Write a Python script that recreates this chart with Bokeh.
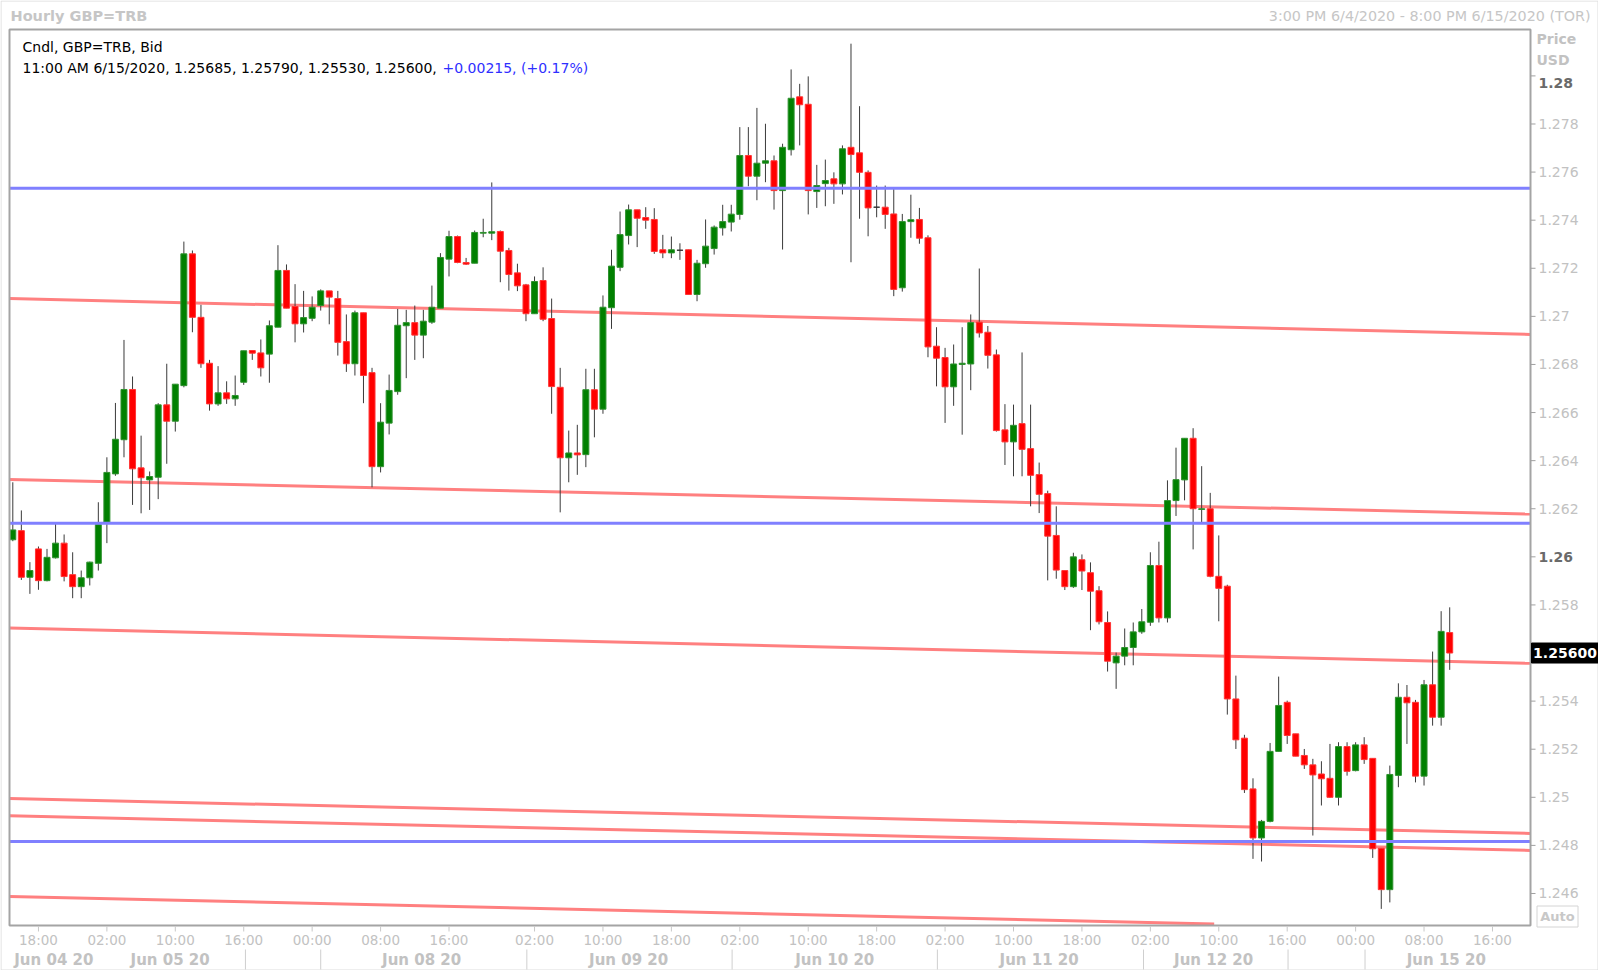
from bokeh.plotting import figure
from bokeh.models import Range1d, ColumnDataSource
from bokeh.core.properties import value
from bokeh.embed import file_html
from bokeh.resources import INLINE

# ---------------- data (hourly GBP=TRB candles, index 0 = 3:00 PM 6/4/2020) ----------------
opens = [1.26071, 1.26109, 1.25915, 1.26033, 1.25901, 1.25996, 1.26057, 1.25926, 1.25876, 1.25913,
         1.25973, 1.26144, 1.26345, 1.26487, 1.26696, 1.26370, 1.26320, 1.26331, 1.26632, 1.26564,
         1.26712, 1.27260, 1.26996, 1.26805, 1.26636, 1.26682, 1.26657, 1.26726, 1.26858, 1.26848,
         1.26843, 1.26955, 1.27191, 1.27041, 1.26969, 1.26992, 1.27045, 1.27106, 1.27074, 1.26895,
         1.26803, 1.27015, 1.26766, 1.26375, 1.26556, 1.26687, 1.26961, 1.26974, 1.26922, 1.26976,
         1.27034, 1.27238, 1.27332, 1.27224, 1.27221, 1.27346, 1.27346, 1.27353, 1.27274, 1.27181,
         1.27131, 1.27011, 1.27149, 1.26991, 1.26705, 1.26412, 1.26432, 1.26425, 1.26695, 1.26614,
         1.27036, 1.27204, 1.27336, 1.27443, 1.27411, 1.27403, 1.27277, 1.27264, 1.27275, 1.27277,
         1.27091, 1.27219, 1.27282, 1.27368, 1.27392, 1.27424, 1.27669, 1.27583, 1.27637, 1.27647,
         1.27523, 1.27693, 1.27913, 1.27882, 1.27519, 1.27552, 1.27572, 1.27551, 1.27703, 1.27680,
         1.27599, 1.27454, 1.27454, 1.27426, 1.27119, 1.27394, 1.27403, 1.27327, 1.26876, 1.26829,
         1.26707, 1.26800, 1.26802, 1.26976, 1.26934, 1.26840, 1.26528, 1.26478, 1.26554, 1.26450,
         1.26342, 1.26263, 1.26089, 1.25943, 1.25876, 1.25988, 1.25934, 1.25859, 1.25727, 1.25559,
         1.25587, 1.25623, 1.25688, 1.25728, 1.25964, 1.25746, 1.26234, 1.26320, 1.26493, 1.26197,
         1.26200, 1.25919, 1.25878, 1.25409, 1.25246, 1.25035, 1.24831, 1.24900, 1.25191, 1.25395,
         1.25264, 1.25174, 1.25135, 1.25097, 1.25079, 1.25000, 1.25211, 1.25111, 1.25218, 1.25162,
         1.24788, 1.24616, 1.25091, 1.25416, 1.25395, 1.25088, 1.25468, 1.25333, 1.25685]
highs = [1.26310, 1.26193, 1.25978, 1.26043, 1.26033, 1.26137, 1.26093, 1.26019, 1.25943, 1.25980,
         1.26227, 1.26414, 1.26640, 1.26902, 1.26750, 1.26504, 1.26355, 1.26639, 1.26803, 1.26718,
         1.27311, 1.27274, 1.27048, 1.26819, 1.26793, 1.26730, 1.26754, 1.26857, 1.26860, 1.26904,
         1.26983, 1.27296, 1.27216, 1.27134, 1.27106, 1.27083, 1.27112, 1.27106, 1.27106, 1.27008,
         1.27024, 1.27015, 1.26786, 1.26639, 1.26758, 1.27031, 1.27027, 1.27045, 1.27027, 1.27128,
         1.27263, 1.27356, 1.27336, 1.27243, 1.27357, 1.27406, 1.27557, 1.27357, 1.27285, 1.27219,
         1.27135, 1.27166, 1.27204, 1.27074, 1.26786, 1.26525, 1.26549, 1.26782, 1.26782, 1.27087,
         1.27277, 1.27436, 1.27465, 1.27443, 1.27454, 1.27450, 1.27339, 1.27332, 1.27304, 1.27277,
         1.27235, 1.27403, 1.27378, 1.27464, 1.27464, 1.27787, 1.27787, 1.27867, 1.27801, 1.27669,
         1.27718, 1.28027, 1.27967, 1.27998, 1.27630, 1.27652, 1.27599, 1.27711, 1.28134, 1.27874,
         1.27607, 1.27544, 1.27544, 1.27530, 1.27426, 1.27506, 1.27451, 1.27337, 1.26955, 1.26869,
         1.26883, 1.26955, 1.27008, 1.27199, 1.26960, 1.26862, 1.26635, 1.26633, 1.26850, 1.26633,
         1.26392, 1.26275, 1.26210, 1.25943, 1.26017, 1.26010, 1.25977, 1.25878, 1.25773, 1.25602,
         1.25702, 1.25727, 1.25783, 1.26019, 1.26063, 1.26318, 1.26454, 1.26493, 1.26535, 1.26377,
         1.26266, 1.26089, 1.25884, 1.25506, 1.25260, 1.25079, 1.24906, 1.25226, 1.25502, 1.25402,
         1.25264, 1.25201, 1.25160, 1.25150, 1.25222, 1.25229, 1.25229, 1.25229, 1.25250, 1.25162,
         1.24788, 1.25132, 1.25474, 1.25467, 1.25405, 1.25488, 1.25606, 1.25774, 1.25790]
lows = [1.26065, 1.25904, 1.25846, 1.25863, 1.25898, 1.25993, 1.25898, 1.25828, 1.25828, 1.25881,
        1.25943, 1.26057, 1.26337, 1.26414, 1.26216, 1.26181, 1.26195, 1.26240, 1.26387, 1.26521,
        1.26705, 1.26934, 1.26786, 1.26608, 1.26628, 1.26636, 1.26628, 1.26715, 1.26819, 1.26750,
        1.26724, 1.26955, 1.27034, 1.26892, 1.26933, 1.26980, 1.27024, 1.26967, 1.26837, 1.26769,
        1.26754, 1.26639, 1.26289, 1.26351, 1.26509, 1.26674, 1.26743, 1.26819, 1.26826, 1.26969,
        1.27034, 1.27166, 1.27221, 1.27214, 1.27221, 1.27329, 1.27317, 1.27142, 1.27107, 1.27105,
        1.26980, 1.27011, 1.26980, 1.26595, 1.26185, 1.26310, 1.26341, 1.26373, 1.26497, 1.26595,
        1.26948, 1.27188, 1.27299, 1.27288, 1.27364, 1.27260, 1.27242, 1.27242, 1.27235, 1.27090,
        1.27063, 1.27202, 1.27257, 1.27336, 1.27353, 1.27402, 1.27541, 1.27483, 1.27558, 1.27444,
        1.27278, 1.27669, 1.27711, 1.27424, 1.27451, 1.27458, 1.27468, 1.27507, 1.27225, 1.27406,
        1.27333, 1.27412, 1.27364, 1.27084, 1.27103, 1.27327, 1.27302, 1.26830, 1.26709, 1.26557,
        1.26628, 1.26508, 1.26693, 1.26912, 1.26783, 1.26521, 1.26382, 1.26335, 1.26335, 1.26210,
        1.26182, 1.25902, 1.25909, 1.25862, 1.25871, 1.25862, 1.25695, 1.25719, 1.25523, 1.25451,
        1.25549, 1.25549, 1.25680, 1.25713, 1.25727, 1.25727, 1.26170, 1.26235, 1.26031, 1.26144,
        1.25915, 1.25732, 1.25344, 1.25201, 1.25018, 1.24744, 1.24733, 1.24896, 1.25191, 1.25222,
        1.25171, 1.25118, 1.24841, 1.24966, 1.24998, 1.24966, 1.25090, 1.25108, 1.25139, 1.24748,
        1.24536, 1.24563, 1.25042, 1.25222, 1.25062, 1.25049, 1.25298, 1.25298, 1.25530]
closes = [1.26112, 1.25915, 1.25943, 1.25901, 1.25998, 1.26057, 1.25918, 1.25876, 1.25913, 1.25978,
          1.26134, 1.26351, 1.26489, 1.26696, 1.26366, 1.26329, 1.26334, 1.26632, 1.26564, 1.26718,
          1.27260, 1.26996, 1.26803, 1.26636, 1.26682, 1.26657, 1.26671, 1.26857, 1.26847, 1.26786,
          1.26961, 1.27191, 1.27034, 1.26969, 1.26995, 1.27038, 1.27106, 1.27080, 1.26892, 1.26803,
          1.27015, 1.26754, 1.26375, 1.26560, 1.26692, 1.26963, 1.26974, 1.26922, 1.26980, 1.27038,
          1.27245, 1.27332, 1.27224, 1.27217, 1.27349, 1.27349, 1.27352, 1.27271, 1.27174, 1.27127,
          1.27011, 1.27145, 1.26988, 1.26708, 1.26412, 1.26432, 1.26424, 1.26695, 1.26614, 1.27038,
          1.27209, 1.27340, 1.27443, 1.27408, 1.27400, 1.27270, 1.27264, 1.27277, 1.27275, 1.27091,
          1.27221, 1.27292, 1.27371, 1.27394, 1.27425, 1.27669, 1.27583, 1.27637, 1.27647, 1.27523,
          1.27703, 1.27907, 1.27880, 1.27523, 1.27544, 1.27565, 1.27551, 1.27697, 1.27673, 1.27599,
          1.27451, 1.27454, 1.27424, 1.27112, 1.27394, 1.27402, 1.27325, 1.26873, 1.26826, 1.26707,
          1.26802, 1.26805, 1.26974, 1.26931, 1.26838, 1.26525, 1.26478, 1.26547, 1.26447, 1.26339,
          1.26260, 1.26086, 1.25945, 1.25876, 1.26000, 1.25941, 1.25857, 1.25730, 1.25566, 1.25587,
          1.25623, 1.25688, 1.25730, 1.25964, 1.25746, 1.26234, 1.26321, 1.26493, 1.26200, 1.26200,
          1.25919, 1.25869, 1.25409, 1.25239, 1.25032, 1.24831, 1.24900, 1.25191, 1.25382, 1.25257,
          1.25171, 1.25135, 1.25093, 1.25077, 1.25000, 1.25211, 1.25108, 1.25218, 1.25157, 1.24786,
          1.24616, 1.25095, 1.25416, 1.25393, 1.25088, 1.25468, 1.25333, 1.25690, 1.25600]

# horizontal support / resistance levels (blue)
levels = [1.27533, 1.26140, 1.24816]
# sloping trend lines (red): price at the chart's left edge and at its right edge
trend_left = [1.27074, 1.26322, 1.25704, 1.24995, 1.24923, 1.24588]
trend_right = [1.26925, 1.26178, 1.25557, 1.24850, 1.24779, 1.24443]

# price axis
price_ticks = [1.246, 1.248, 1.25, 1.252, 1.254, 1.258, 1.262, 1.264, 1.266,
               1.268, 1.27, 1.272, 1.274, 1.276, 1.278]
price_tick_labels = ["1.246", "1.248", "1.25", "1.252", "1.254", "1.258", "1.262", "1.264", "1.266",
                     "1.268", "1.27", "1.272", "1.274", "1.276", "1.278"]
bold_ticks = [1.28, 1.26]
bold_tick_labels = ["1.28", "1.26"]
last_price = 1.256
last_price_label = "1.25600"

# time axis (bar index positions)
time_pos = [3, 11, 19, 27, 35, 43, 51, 61, 69, 77, 85, 93, 101, 109, 117, 125, 133, 141, 149, 157, 165, 173]
time_labels = ["18:00", "02:00", "10:00", "16:00", "00:00", "08:00", "16:00", "02:00", "10:00", "18:00",
               "02:00", "10:00", "18:00", "02:00", "10:00", "18:00", "02:00", "10:00", "16:00", "00:00",
               "08:00", "16:00"]
day_breaks = [27.2, 36, 60.1, 84.1, 108.1, 132.2, 149.1, 158.1]
date_pos = [4.8, 18.4, 47.8, 72, 96.1, 120, 140.4, 167.6]
date_labels = ["Jun 04 20", "Jun 05 20", "Jun 08 20", "Jun 09 20", "Jun 10 20", "Jun 11 20",
               "Jun 12 20", "Jun 15 20"]

# ---------------- layout / scale calibration ----------------
W, H = 1598, 970
BAR0_PX, BAR_PX = 12.3, 8.553          # pixel x of bar 0, pixels per bar
P_REF, P_REF_PX, PX_PER_PRICE = 1.28, 75.4, 24047.0
BOX_L, BOX_R, BOX_T, BOX_B = 9, 1530, 29, 925   # plot box in pixels


def dx(px):
    return (px - BAR0_PX) / BAR_PX


def dy(py):
    return P_REF - (py - P_REF_PX) / PX_PER_PRICE


FONT = value("DejaVu Sans")
LIGHT = "#c2c2c2"

p = figure(width=W, height=H, x_range=Range1d(dx(0), dx(W)), y_range=Range1d(dy(H), dy(0)),
           output_backend="svg", toolbar_location=None,
           x_axis_location=None, y_axis_location=None)
p.min_border = 0
p.min_border_left = 0
p.min_border_right = 0
p.min_border_top = 0
p.min_border_bottom = 0
p.grid.grid_line_color = None
p.outline_line_color = None
p.background_fill_color = "white"
p.border_fill_color = "white"
p.extra_x_ranges = {"px": Range1d(0, W)}
p.extra_y_ranges = {"py": Range1d(H, 0)}

xl, xr = dx(BOX_L), dx(BOX_R)
ybot = dy(BOX_B - 1.5)

# trend lines (behind candles), clipped at the bottom of the plot box
tx0, ty0, tx1, ty1 = [], [], [], []
for a, b in zip(trend_left, trend_right):
    x_end, y_end = xr, b
    if b < ybot:
        x_end = xl + (a - ybot) / (a - b) * (xr - xl)
        y_end = ybot
    tx0.append(xl); ty0.append(a); tx1.append(x_end); ty1.append(y_end)
p.segment(x0=tx0, y0=ty0, x1=tx1, y1=ty1, line_color="#ff8080", line_width=3)

# candles
n = len(opens)
fills, lines_c = [], []
for o, c in zip(opens, closes):
    if c > o:
        fills.append("#008000"); lines_c.append("#2f912f")
    elif c < o:
        fills.append("#ff0000"); lines_c.append("#ff3535")
    else:
        fills.append("#303030"); lines_c.append("#303030")
src = ColumnDataSource(dict(x=list(range(n)), h=highs, l=lows,
                            top=[max(a, b) for a, b in zip(opens, closes)],
                            bot=[min(a, b) for a, b in zip(opens, closes)],
                            fill=fills, line=lines_c))
p.segment(x0="x", y0="h", x1="x", y1="l", source=src, line_color="#3a3a3a", line_width=1)
p.vbar(x="x", width=0.7, top="top", bottom="bot", source=src,
       fill_color="fill", line_color="line", line_width=1)

# horizontal levels (blue)
p.segment(x0=[xl] * len(levels), y0=levels, x1=[xr] * len(levels), y1=levels,
          line_color="#8080ff", line_width=3)

# plot box and outer panel border
p.quad(left=[BOX_L], right=[BOX_R], top=[BOX_T], bottom=[BOX_B], x_range_name="px", y_range_name="py",
       fill_color=None, line_color="#a4a4a4", line_width=2)
p.quad(left=[0.5], right=[W - 0.5], top=[0.5], bottom=[H - 0.5], x_range_name="px", y_range_name="py",
       fill_color=None, line_color="#dcdcdc", line_width=1)

# ---- right price axis ----
all_ticks = price_ticks + bold_ticks
p.segment(x0=[BOX_R] * len(all_ticks), y0=all_ticks, x1=[BOX_R + 5] * len(all_ticks), y1=all_ticks,
          x_range_name="px", line_color="#a0a0a0", line_width=1)
p.text(x=[BOX_R + 8] * len(price_ticks), y=price_ticks, text=price_tick_labels, x_range_name="px",
       text_font=FONT, text_font_size="14px", text_color=LIGHT,
       text_align="left", text_baseline="middle")
p.text(x=[BOX_R + 8] * len(bold_ticks), y=bold_ticks, text=bold_tick_labels, x_range_name="px",
       y_offset=[7, 0], text_font=FONT, text_font_size="14px", text_font_style="bold",
       text_color="#6a6a6a", text_align="left", text_baseline="middle")
p.text(x=[BOX_R + 6] * 2, y=[38, 59], text=["Price", "USD"], x_range_name="px", y_range_name="py",
       text_font=FONT, text_font_size="14px", text_font_style="bold", text_color=LIGHT,
       text_align="left", text_baseline="middle")
# last price box
p.rect(x=[(BOX_R + 1 + W) / 2], y=[last_price], width=W - BOX_R - 1, height=20, height_units="screen",
       x_range_name="px", fill_color="black", line_color="black")
p.text(x=[(BOX_R + 1 + W) / 2], y=[last_price], text=[last_price_label], x_range_name="px",
       text_font=FONT, text_font_size="14px", text_font_style="bold", text_color="white",
       text_align="center", text_baseline="middle")
# "Auto" button
p.quad(left=[1536.5], right=[1577.5], top=[905.5], bottom=[926.5], x_range_name="px", y_range_name="py",
       fill_color="white", line_color="#d4d4d4", line_width=1)
p.text(x=[1557], y=[916], text=["Auto"], x_range_name="px", y_range_name="py",
       text_font=FONT, text_font_size="13px", text_font_style="bold", text_color="#c8c8c8",
       text_align="center", text_baseline="middle")

# ---- bottom time axis ----
p.segment(x0=time_pos, y0=[BOX_B + 1] * len(time_pos), x1=time_pos, y1=[BOX_B + 6] * len(time_pos),
          y_range_name="py", line_color="#c8c8c8", line_width=1)
p.text(x=time_pos, y=[939] * len(time_pos), text=time_labels, y_range_name="py",
       text_font=FONT, text_font_size="13.5px", text_color=LIGHT,
       text_align="center", text_baseline="middle")
p.segment(x0=day_breaks, y0=[949] * len(day_breaks), x1=day_breaks, y1=[969] * len(day_breaks),
          y_range_name="py", line_color="#cfcfcf", line_width=1)
p.text(x=date_pos, y=[959] * len(date_pos), text=date_labels, y_range_name="py",
       text_font=FONT, text_font_size="15px", text_font_style="bold", text_color=LIGHT,
       text_align="center", text_baseline="middle")

# ---- header ----
p.text(x=[10], y=[15], text=["Hourly GBP=TRB"], x_range_name="px", y_range_name="py",
       text_font=FONT, text_font_size="14.5px", text_font_style="bold", text_color="#c6c6c6",
       text_align="left", text_baseline="middle")
p.text(x=[1590], y=[15], text=["3:00 PM 6/4/2020 - 8:00 PM 6/15/2020 (TOR)"],
       x_range_name="px", y_range_name="py",
       text_font=FONT, text_font_size="14.3px", text_color="#c6c6c6",
       text_align="right", text_baseline="middle")

# ---- info lines ----
p.text(x=[22, 22], y=[46, 67],
       text=["Cndl, GBP=TRB, Bid", "11:00 AM 6/15/2020, 1.25685, 1.25790, 1.25530, 1.25600,"],
       x_range_name="px", y_range_name="py", text_font=FONT, text_font_size="14px",
       text_color="black", text_align="left", text_baseline="middle")
p.text(x=[442], y=[67], text=["+0.00215, (+0.17%)"], x_range_name="px", y_range_name="py",
       text_font=FONT, text_font_size="14px", text_color="#2f2fff",
       text_align="left", text_baseline="middle")

open("out.html", "w").write(file_html(p, INLINE))
